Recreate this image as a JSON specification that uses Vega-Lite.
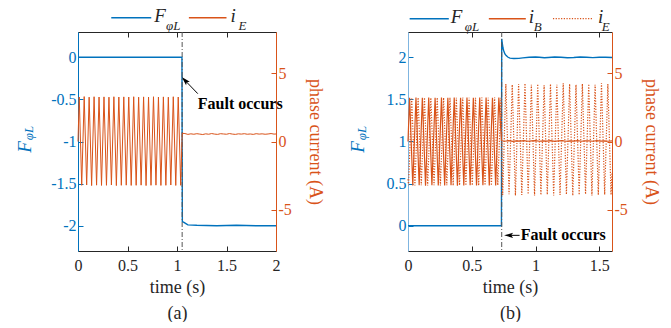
{
  "$schema": "https://vega.github.io/schema/vega-lite/v6.json",
  "padding": {"left": 15, "top": 6, "right": 12, "bottom": 0},
  "spacing": 132,
  "bounds": "flush",
  "config": {
    "view": {"stroke": null},
    "font": "Liberation Serif, Times New Roman, serif",
    "text": {"font": "Liberation Serif, Times New Roman, serif"},
    "axis": {
      "labelFont": "Liberation Serif, Times New Roman, serif", "titleFont": "Liberation Serif, Times New Roman, serif",
      "labelFontSize": 16, "titleFontSize": 18, "titleFontWeight": "normal",
      "grid": false, "labelFlush": false, "labelOverlap": false,
      "tickSize": -5, "labelPadding": 7,
      "domainColor": "#262626", "tickColor": "#262626", "labelColor": "#262626", "titleColor": "#262626"
    }
  },
  "hconcat": [
    {
      "width": 198, "height": 219,
      "resolve": {"scale": {"y": "independent"}, "axis": {"x": "independent"}},
      "layer": [
        {
          "layer": [
            {
              "data": {"values": [
                {"t": 0, "v": 0}, {"t": 1.05, "v": 0}, {"t": 1.052, "v": -1.0}, {"t": 1.054, "v": -1.95},
                {"t": 1.07, "v": -1.96}, {"t": 1.09, "v": -1.975}, {"t": 1.11, "v": -1.99}, {"t": 1.2, "v": -1.995},
                {"t": 1.4, "v": -2.0}, {"t": 1.6, "v": -1.995}, {"t": 1.8, "v": -2.0}, {"t": 2.0, "v": -2.0}
              ]},
              "mark": {"type": "line", "color": "#0072BD", "strokeWidth": 1.4},
              "encoding": {
                "x": {"field": "t", "type": "quantitative", "scale": {"domain": [0, 2], "nice": false, "zero": false},
                  "axis": {"orient": "bottom", "values": [0, 0.5, 1, 1.5, 2], "labelExpr": "datum.value + ''", "labelPadding": 11,
                    "title": ["time (s)", "(a)"], "titleLineHeight": 26, "titlePadding": 5}},
                "y": {"field": "v", "type": "quantitative", "scale": {"domain": [-2.3, 0.3], "nice": false, "zero": false},
                  "axis": {"orient": "left", "values": [-2, -1.5, -1, -0.5, 0], "labelExpr": "datum.value + ''", "title": null,
                    "domainColor": "#0072BD", "tickColor": "#0072BD", "labelColor": "#0072BD"}}
              }
            },
            {
              "data": {"values": [{"t": 1.052}]},
              "mark": {"type": "rule", "color": "#555555", "strokeDash": [5, 2, 1, 2], "strokeWidth": 1},
              "encoding": {"x": {"field": "t", "type": "quantitative"}}
            },
            {
              "data": {"values": [{"t": 1.21, "v": -0.551, "label": "Fault occurs"}]},
              "mark": {"type": "text", "fontWeight": "bold", "fontSize": 16, "align": "left", "baseline": "middle", "color": "#000000"},
              "encoding": {"x": {"field": "t", "type": "quantitative"}, "y": {"field": "v", "type": "quantitative"}, "text": {"field": "label"}}
            },
            {
              "data": {"values": [{"t": 1.21, "v": -0.432, "t2": 1.085, "v2": -0.28}]},
              "mark": {"type": "rule", "color": "#000000", "strokeWidth": 1},
              "encoding": {"x": {"field": "t", "type": "quantitative"}, "y": {"field": "v", "type": "quantitative"}, "x2": {"field": "t2"}, "y2": {"field": "v2"}}
            },
            {
              "data": {"values": [{"t": 1.081, "v": -0.275}]},
              "mark": {"type": "point", "shape": "M0,-1L0.55,0.9L0,0.5L-0.55,0.9Z", "filled": true, "color": "#000000", "size": 90, "angle": 316, "opacity": 1},
              "encoding": {"x": {"field": "t", "type": "quantitative"}, "y": {"field": "v", "type": "quantitative"}}
            },
            {
              "data": {"values": [{"a": 0.336, "b": 0.74, "v": 0.47}]},
              "mark": {"type": "rule", "color": "#0072BD", "strokeWidth": 1.4},
              "encoding": {"x": {"field": "a", "type": "quantitative"}, "x2": {"field": "b"}, "y": {"field": "v", "type": "quantitative"}}
            },
            {
              "data": {"values": [{"a": 1.12, "b": 1.5, "v": 0.47}]},
              "mark": {"type": "rule", "color": "#D95319", "strokeWidth": 1.4},
              "encoding": {"x": {"field": "a", "type": "quantitative"}, "x2": {"field": "b"}, "y": {"field": "v", "type": "quantitative"}}
            },
            {
              "data": {"values": [{"t": 0.77, "v": 0.47, "label": "F"}, {"t": 1.54, "v": 0.47, "label": "i"}]},
              "mark": {"type": "text", "fontStyle": "italic", "fontSize": 19, "align": "left", "baseline": "middle", "dy": -2, "color": "#262626"},
              "encoding": {"x": {"field": "t", "type": "quantitative"}, "y": {"field": "v", "type": "quantitative"}, "text": {"field": "label"}}
            },
            {
              "data": {"values": [{"t": 0.89, "v": 0.47, "label": "φL"}, {"t": 1.62, "v": 0.47, "label": "E"}]},
              "mark": {"type": "text", "fontStyle": "italic", "fontSize": 13, "align": "left", "baseline": "middle", "dy": 8, "color": "#262626"},
              "encoding": {"x": {"field": "t", "type": "quantitative"}, "y": {"field": "v", "type": "quantitative"}, "text": {"field": "label"}}
            },
            {
              "data": {"values": [{"t": -0.54, "v": -1.065, "label": "F"}]},
              "mark": {"type": "text", "fontStyle": "italic", "fontSize": 19, "align": "center", "baseline": "middle", "angle": 270, "color": "#0072BD"},
              "encoding": {"x": {"field": "t", "type": "quantitative"}, "y": {"field": "v", "type": "quantitative"}, "text": {"field": "label"}}
            },
            {
              "data": {"values": [{"t": -0.54, "v": -0.9, "label": "φL"}]},
              "mark": {"type": "text", "fontStyle": "italic", "fontSize": 13, "align": "center", "baseline": "middle", "angle": 270, "dy": 4, "color": "#0072BD"},
              "encoding": {"x": {"field": "t", "type": "quantitative"}, "y": {"field": "v", "type": "quantitative"}, "text": {"field": "label"}}
            }
          ]
        },
        {
          "data": {"values": [
            {"t": 0, "v": 0},
            {"t": 0.0125, "v": 3.25}, {"t": 0.0375, "v": -3.2}, {"t": 0.0625, "v": 3.28}, {"t": 0.0875, "v": -3.18},
            {"t": 0.1125, "v": 3.24}, {"t": 0.1375, "v": -3.22}, {"t": 0.1625, "v": 3.27}, {"t": 0.1875, "v": -3.19},
            {"t": 0.2125, "v": 3.25}, {"t": 0.2375, "v": -3.21}, {"t": 0.2625, "v": 3.26}, {"t": 0.2875, "v": -3.2},
            {"t": 0.3125, "v": 3.24}, {"t": 0.3375, "v": -3.18}, {"t": 0.3625, "v": 3.27}, {"t": 0.3875, "v": -3.22},
            {"t": 0.4125, "v": 3.25}, {"t": 0.4375, "v": -3.2}, {"t": 0.4625, "v": 3.26}, {"t": 0.4875, "v": -3.19},
            {"t": 0.5125, "v": 3.25}, {"t": 0.5375, "v": -3.21}, {"t": 0.5625, "v": 3.27}, {"t": 0.5875, "v": -3.2},
            {"t": 0.6125, "v": 3.24}, {"t": 0.6375, "v": -3.19}, {"t": 0.6625, "v": 3.26}, {"t": 0.6875, "v": -3.22},
            {"t": 0.7125, "v": 3.25}, {"t": 0.7375, "v": -3.2}, {"t": 0.7625, "v": 3.27}, {"t": 0.7875, "v": -3.19},
            {"t": 0.8125, "v": 3.25}, {"t": 0.8375, "v": -3.21}, {"t": 0.8625, "v": 3.26}, {"t": 0.8875, "v": -3.2},
            {"t": 0.9125, "v": 3.24}, {"t": 0.9375, "v": -3.18}, {"t": 0.9625, "v": 3.27}, {"t": 0.9875, "v": -3.21},
            {"t": 1.0125, "v": 3.25}, {"t": 1.0375, "v": -3.2}, {"t": 1.05, "v": 0.0},
            {"t": 1.053, "v": 0.6}, {"t": 1.08, "v": 0.58}, {"t": 1.11, "v": 0.52}, {"t": 1.14, "v": 0.56},
            {"t": 1.17, "v": 0.53}, {"t": 1.2, "v": 0.57}, {"t": 1.23, "v": 0.54}, {"t": 1.26, "v": 0.51},
            {"t": 1.29, "v": 0.56}, {"t": 1.32, "v": 0.53}, {"t": 1.35, "v": 0.58}, {"t": 1.38, "v": 0.54},
            {"t": 1.41, "v": 0.52}, {"t": 1.44, "v": 0.57}, {"t": 1.47, "v": 0.55}, {"t": 1.5, "v": 0.53},
            {"t": 1.53, "v": 0.58}, {"t": 1.56, "v": 0.54}, {"t": 1.59, "v": 0.52}, {"t": 1.62, "v": 0.56},
            {"t": 1.65, "v": 0.54}, {"t": 1.68, "v": 0.57}, {"t": 1.71, "v": 0.53}, {"t": 1.74, "v": 0.55},
            {"t": 1.77, "v": 0.52}, {"t": 1.8, "v": 0.57}, {"t": 1.83, "v": 0.54}, {"t": 1.86, "v": 0.56},
            {"t": 1.89, "v": 0.53}, {"t": 1.92, "v": 0.55}, {"t": 1.95, "v": 0.58}, {"t": 1.98, "v": 0.54},
            {"t": 2.0, "v": 0.55}
          ]},
          "mark": {"type": "line", "color": "#D95319", "strokeWidth": 1},
          "encoding": {
            "x": {"field": "t", "type": "quantitative", "scale": {"domain": [0, 2], "nice": false, "zero": false},
              "axis": {"orient": "top", "values": [0, 0.5, 1, 1.5, 2], "labels": false, "title": null}},
            "y": {"field": "v", "type": "quantitative", "scale": {"domain": [-8, 8], "nice": false, "zero": false},
              "axis": {"orient": "right", "values": [-5, 0, 5], "labelExpr": "datum.value + ''", "title": "phase current (A)",
                "domainColor": "#D95319", "tickColor": "#D95319", "labelColor": "#D95319", "titleColor": "#D95319", "titlePadding": 14}}
          }
        }
      ]
    },
    {
      "width": 204, "height": 219,
      "resolve": {"scale": {"y": "independent"}, "axis": {"x": "independent"}},
      "layer": [
        {
          "layer": [
            {
              "data": {"values": [
                {"t": 0, "v": 0}, {"t": 0.733, "v": 0}, {"t": 0.735, "v": 2.22}, {"t": 0.74, "v": 2.16},
                {"t": 0.745, "v": 2.11}, {"t": 0.75, "v": 2.08}, {"t": 0.76, "v": 2.04}, {"t": 0.77, "v": 2.02},
                {"t": 0.785, "v": 2.0}, {"t": 0.8, "v": 1.99}, {"t": 0.83, "v": 1.985}, {"t": 0.87, "v": 1.987},
                {"t": 0.9, "v": 1.993}, {"t": 0.95, "v": 2.0}, {"t": 1.0, "v": 2.004}, {"t": 1.03, "v": 2.0},
                {"t": 1.07, "v": 1.995}, {"t": 1.1, "v": 1.998}, {"t": 1.15, "v": 2.004}, {"t": 1.2, "v": 2.0},
                {"t": 1.25, "v": 1.995}, {"t": 1.3, "v": 1.998}, {"t": 1.35, "v": 2.003}, {"t": 1.4, "v": 2.0},
                {"t": 1.45, "v": 1.996}, {"t": 1.5, "v": 2.0}, {"t": 1.55, "v": 2.0}, {"t": 1.6, "v": 1.997}
              ]},
              "mark": {"type": "line", "color": "#0072BD", "strokeWidth": 1.4},
              "encoding": {
                "x": {"field": "t", "type": "quantitative", "scale": {"domain": [0, 1.6], "nice": false, "zero": false},
                  "axis": {"orient": "bottom", "values": [0, 0.5, 1, 1.5], "labelExpr": "datum.value + ''", "labelPadding": 11,
                    "title": ["time (s)", "(b)"], "titleLineHeight": 26, "titlePadding": 5}},
                "y": {"field": "v", "type": "quantitative", "scale": {"domain": [-0.3, 2.3], "nice": false, "zero": false},
                  "axis": {"orient": "left", "values": [0, 0.5, 1, 1.5, 2], "labelExpr": "datum.value + ''", "title": null,
                    "domainColor": "#7FB5E0", "tickColor": "#0072BD", "labelColor": "#0072BD"}}
              }
            },
            {
              "data": {"values": [{"t": 0.735}]},
              "mark": {"type": "rule", "color": "#555555", "strokeDash": [5, 2, 1, 2], "strokeWidth": 1},
              "encoding": {"x": {"field": "t", "type": "quantitative"}}
            },
            {
              "data": {"values": [{"t": 0.885, "v": -0.114, "label": "Fault occurs"}]},
              "mark": {"type": "text", "fontWeight": "bold", "fontSize": 16, "align": "left", "baseline": "middle", "color": "#000000"},
              "encoding": {"x": {"field": "t", "type": "quantitative"}, "y": {"field": "v", "type": "quantitative"}, "text": {"field": "label"}}
            },
            {
              "data": {"values": [{"t": 0.79, "v": -0.114, "t2": 0.875, "v2": -0.114}]},
              "mark": {"type": "rule", "color": "#000000", "strokeWidth": 1},
              "encoding": {"x": {"field": "t", "type": "quantitative"}, "y": {"field": "v", "type": "quantitative"}, "x2": {"field": "t2"}, "y2": {"field": "v2"}}
            },
            {
              "data": {"values": [{"t": 0.791, "v": -0.114}]},
              "mark": {"type": "point", "shape": "M0,-1L0.55,0.9L0,0.5L-0.55,0.9Z", "filled": true, "color": "#000000", "size": 90, "angle": 270, "opacity": 1},
              "encoding": {"x": {"field": "t", "type": "quantitative"}, "y": {"field": "v", "type": "quantitative"}}
            },
            {
              "data": {"values": [{"a": 0.013, "b": 0.32, "v": 2.458}]},
              "mark": {"type": "rule", "color": "#0072BD", "strokeWidth": 1.4},
              "encoding": {"x": {"field": "a", "type": "quantitative"}, "x2": {"field": "b"}, "y": {"field": "v", "type": "quantitative"}}
            },
            {
              "data": {"values": [{"a": 0.634, "b": 0.924, "v": 2.458}]},
              "mark": {"type": "rule", "color": "#D95319", "strokeWidth": 1.4},
              "encoding": {"x": {"field": "a", "type": "quantitative"}, "x2": {"field": "b"}, "y": {"field": "v", "type": "quantitative"}}
            },
            {
              "data": {"values": [{"a": 1.137, "b": 1.45, "v": 2.458}]},
              "mark": {"type": "rule", "color": "#D95319", "strokeWidth": 1.2, "strokeDash": [1.2, 1.5]},
              "encoding": {"x": {"field": "a", "type": "quantitative"}, "x2": {"field": "b"}, "y": {"field": "v", "type": "quantitative"}}
            },
            {
              "data": {"values": [{"t": 0.335, "v": 2.458, "label": "F"}, {"t": 0.948, "v": 2.458, "label": "i"}, {"t": 1.49, "v": 2.458, "label": "i"}]},
              "mark": {"type": "text", "fontStyle": "italic", "fontSize": 19, "align": "left", "baseline": "middle", "dy": -2, "color": "#262626"},
              "encoding": {"x": {"field": "t", "type": "quantitative"}, "y": {"field": "v", "type": "quantitative"}, "text": {"field": "label"}}
            },
            {
              "data": {"values": [{"t": 0.445, "v": 2.458, "label": "φL"}, {"t": 0.987, "v": 2.458, "label": "B"}, {"t": 1.52, "v": 2.458, "label": "E"}]},
              "mark": {"type": "text", "fontStyle": "italic", "fontSize": 13, "align": "left", "baseline": "middle", "dy": 8, "color": "#262626"},
              "encoding": {"x": {"field": "t", "type": "quantitative"}, "y": {"field": "v", "type": "quantitative"}, "text": {"field": "label"}}
            },
            {
              "data": {"values": [{"t": -0.391, "v": 0.935, "label": "F"}]},
              "mark": {"type": "text", "fontStyle": "italic", "fontSize": 19, "align": "center", "baseline": "middle", "angle": 270, "color": "#0072BD"},
              "encoding": {"x": {"field": "t", "type": "quantitative"}, "y": {"field": "v", "type": "quantitative"}, "text": {"field": "label"}}
            },
            {
              "data": {"values": [{"t": -0.391, "v": 1.101, "label": "φL"}]},
              "mark": {"type": "text", "fontStyle": "italic", "fontSize": 13, "align": "center", "baseline": "middle", "angle": 270, "dy": 4, "color": "#0072BD"},
              "encoding": {"x": {"field": "t", "type": "quantitative"}, "y": {"field": "v", "type": "quantitative"}, "text": {"field": "label"}}
            }
          ]
        },
        {
          "layer": [
            {
              "data": {"values": [
                {"t": 0, "v": 0},
                {"t": 0.0125, "v": 3.2}, {"t": 0.0375, "v": -3.22}, {"t": 0.0625, "v": 3.22}, {"t": 0.0875, "v": -3.2},
                {"t": 0.1125, "v": 3.19}, {"t": 0.1375, "v": -3.23}, {"t": 0.1625, "v": 3.21}, {"t": 0.1875, "v": -3.2},
                {"t": 0.2125, "v": 3.2}, {"t": 0.2375, "v": -3.22}, {"t": 0.2625, "v": 3.22}, {"t": 0.2875, "v": -3.21},
                {"t": 0.3125, "v": 3.19}, {"t": 0.3375, "v": -3.2}, {"t": 0.3625, "v": 3.21}, {"t": 0.3875, "v": -3.23},
                {"t": 0.4125, "v": 3.2}, {"t": 0.4375, "v": -3.21}, {"t": 0.4625, "v": 3.22}, {"t": 0.4875, "v": -3.2},
                {"t": 0.5125, "v": 3.2}, {"t": 0.5375, "v": -3.22}, {"t": 0.5625, "v": 3.21}, {"t": 0.5875, "v": -3.2},
                {"t": 0.6125, "v": 3.22}, {"t": 0.6375, "v": -3.21}, {"t": 0.6625, "v": 3.2}, {"t": 0.6875, "v": -3.22},
                {"t": 0.7125, "v": 3.21}, {"t": 0.733, "v": 0.05},
                {"t": 0.76, "v": 0.02}, {"t": 0.79, "v": 0.06}, {"t": 0.82, "v": 0.01}, {"t": 0.85, "v": 0.05},
                {"t": 0.88, "v": 0.03}, {"t": 0.91, "v": 0.07}, {"t": 0.94, "v": 0.02}, {"t": 0.97, "v": 0.04},
                {"t": 1.0, "v": 0.06}, {"t": 1.03, "v": 0.02}, {"t": 1.06, "v": 0.05}, {"t": 1.09, "v": 0.03},
                {"t": 1.12, "v": 0.06}, {"t": 1.15, "v": 0.01}, {"t": 1.18, "v": 0.04}, {"t": 1.21, "v": 0.06},
                {"t": 1.24, "v": 0.02}, {"t": 1.27, "v": 0.05}, {"t": 1.3, "v": 0.03}, {"t": 1.33, "v": 0.06},
                {"t": 1.36, "v": 0.02}, {"t": 1.39, "v": 0.04}, {"t": 1.42, "v": 0.05}, {"t": 1.45, "v": 0.02},
                {"t": 1.48, "v": 0.06}, {"t": 1.51, "v": 0.03}, {"t": 1.54, "v": 0.05}, {"t": 1.57, "v": 0.02},
                {"t": 1.6, "v": 0.04}
              ]},
              "mark": {"type": "line", "color": "#D95319", "strokeWidth": 1.2},
              "encoding": {
                "x": {"field": "t", "type": "quantitative", "scale": {"domain": [0, 1.6], "nice": false, "zero": false},
                  "axis": {"orient": "top", "values": [0, 0.5, 1, 1.5], "labels": false, "title": null}},
                "y": {"field": "v", "type": "quantitative", "scale": {"domain": [-8, 8], "nice": false, "zero": false},
                  "axis": {"orient": "right", "values": [-5, 0, 5], "labelExpr": "datum.value + ''", "title": "phase current (A)",
                    "domainColor": "#D95319", "tickColor": "#D95319", "labelColor": "#D95319", "titleColor": "#D95319", "titlePadding": 14}}
              }
            },
            {
              "data": {"values": [
                {"t": 0, "v": -2.76}, {"t": 0.0042, "v": -3.2},
                {"t": 0.0292, "v": 3.2}, {"t": 0.0542, "v": -3.21}, {"t": 0.0792, "v": 3.21}, {"t": 0.1042, "v": -3.2},
                {"t": 0.1292, "v": 3.2}, {"t": 0.1542, "v": -3.22}, {"t": 0.1792, "v": 3.19}, {"t": 0.2042, "v": -3.2},
                {"t": 0.2292, "v": 3.21}, {"t": 0.2542, "v": -3.21}, {"t": 0.2792, "v": 3.2}, {"t": 0.3042, "v": -3.2},
                {"t": 0.3292, "v": 3.22}, {"t": 0.3542, "v": -3.22}, {"t": 0.3792, "v": 3.2}, {"t": 0.4042, "v": -3.2},
                {"t": 0.4292, "v": 3.21}, {"t": 0.4542, "v": -3.21}, {"t": 0.4792, "v": 3.2}, {"t": 0.5042, "v": -3.2},
                {"t": 0.5292, "v": 3.19}, {"t": 0.5542, "v": -3.22}, {"t": 0.5792, "v": 3.21}, {"t": 0.6042, "v": -3.2},
                {"t": 0.6292, "v": 3.2}, {"t": 0.6542, "v": -3.21}, {"t": 0.6792, "v": 3.22}, {"t": 0.7042, "v": -3.2},
                {"t": 0.7292, "v": 3.2},
                {"t": 0.7425, "v": -3.9}, {"t": 0.7675, "v": 4.2}, {"t": 0.7925, "v": -3.85}, {"t": 0.8175, "v": 4.15},
                {"t": 0.8425, "v": -3.95}, {"t": 0.8675, "v": 4.2}, {"t": 0.8925, "v": -3.9}, {"t": 0.9175, "v": 4.25},
                {"t": 0.9425, "v": -3.85}, {"t": 0.9675, "v": 4.15}, {"t": 0.9925, "v": -3.95}, {"t": 1.0175, "v": 4.2},
                {"t": 1.0425, "v": -3.9}, {"t": 1.0675, "v": 4.1}, {"t": 1.0925, "v": -3.88}, {"t": 1.1175, "v": 4.2},
                {"t": 1.1425, "v": -3.95}, {"t": 1.1675, "v": 4.15}, {"t": 1.1925, "v": -3.9}, {"t": 1.2175, "v": 4.25},
                {"t": 1.2425, "v": -3.87}, {"t": 1.2675, "v": 4.2}, {"t": 1.2925, "v": -3.95}, {"t": 1.3175, "v": 4.15},
                {"t": 1.3425, "v": -3.9}, {"t": 1.3675, "v": 4.22}, {"t": 1.3925, "v": -3.85}, {"t": 1.4175, "v": 4.2},
                {"t": 1.4425, "v": -3.95}, {"t": 1.4675, "v": 4.15}, {"t": 1.4925, "v": -3.9}, {"t": 1.5175, "v": 4.25},
                {"t": 1.5425, "v": -3.88}, {"t": 1.5675, "v": 4.2}, {"t": 1.5925, "v": -3.9}, {"t": 1.6, "v": -2.3}
              ]},
              "mark": {"type": "line", "color": "#D95319", "strokeWidth": 1.2, "strokeDash": [1.2, 1.5]},
              "encoding": {
                "x": {"field": "t", "type": "quantitative"},
                "y": {"field": "v", "type": "quantitative"}
              }
            }
          ]
        }
      ]
    }
  ]
}
